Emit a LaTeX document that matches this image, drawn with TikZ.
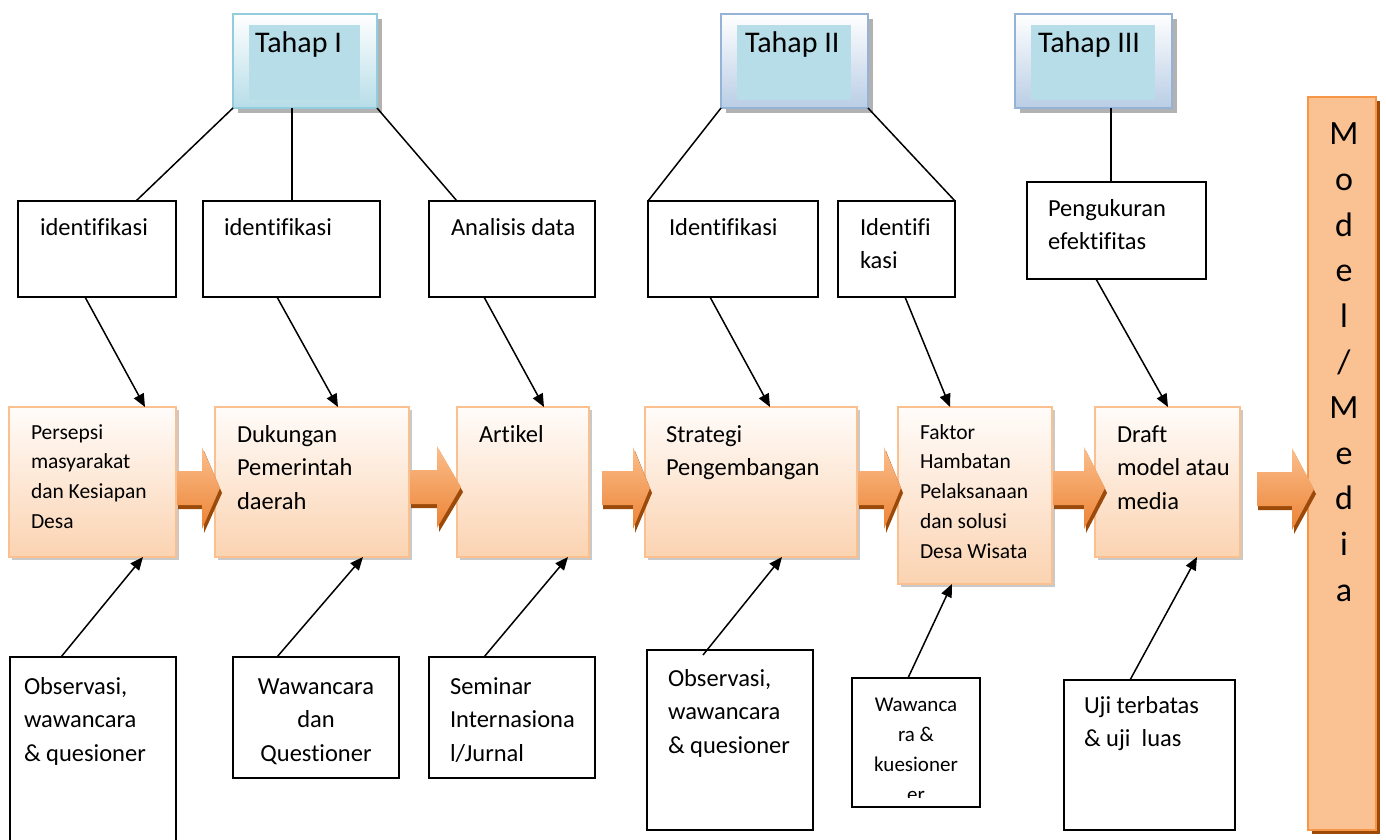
\documentclass[tikz,border=0pt]{standalone}
\usepackage{fontspec}
\setmainfont{Carlito}[Ligatures=NoCommon]
\usetikzlibrary{calc,shadows,arrows.meta}
\definecolor{obord}{HTML}{FAC090}
\definecolor{otop}{HTML}{FFFCFA}
\definecolor{obot}{HTML}{FBD3B1}
\definecolor{aorange}{HTML}{F79646}
\definecolor{alight}{HTML}{FBBE8C}
\definecolor{adark}{HTML}{EC8436}
\definecolor{abrown}{HTML}{9C4A0A}
\definecolor{tblue}{HTML}{B7DDE8}
\definecolor{tbordA}{HTML}{93CDDD}
\definecolor{tbordB}{HTML}{95B3D7}
\definecolor{tbotB}{HTML}{B9CDE5}
\definecolor{barlight}{HTML}{FAC292}
\definecolor{barbord}{HTML}{F79646}
\newcommand\tightsp{\spaceskip=0.226em plus 0.05em minus 0.02em\relax\xspaceskip=0.226em\relax}
\newcommand\blockarrow[4]{%
  \fill[abrown] (#1+1,#4-12) -- (#2+2,#4-12) -- (#2+2,#4-37) -- (#3+2,#4+5) -- (#2+2,#4+45) -- (#2+2,#4+21) -- (#1+1,#4+21) -- cycle;
  \shade[top color=alight, middle color=aorange, bottom color=adark] (#1,#4-17) -- (#2,#4-17) -- (#2,#4-41) -- (#3,#4) -- (#2,#4+41) -- (#2,#4+17) -- (#1,#4+17) -- cycle;}
\tikzset{
  every node/.style={inner sep=0pt, outer sep=0pt},
  sz/.style 2 args={minimum width=#1pt, minimum height=#2pt},
  wbox/.style={draw=black, line width=1.6pt, fill=white, anchor=north west},
  obox/.style={draw=obord, line width=2pt, top color=otop, bottom color=obot, anchor=north west,
     drop shadow={shadow xshift=3pt, shadow yshift=-3pt, fill=black!35, opacity=0.6}},
  tahap/.style={anchor=north west, line width=2pt, top color=white, bottom color=tblue,
     drop shadow={shadow xshift=5pt, shadow yshift=-5pt, fill=black!50, opacity=0.6}},
  bigtxt/.style={font=\fontsize{24.5}{33.5}\selectfont\tightsp, text width=220pt, anchor=base west,
     execute at begin node=\tightsp},
  smalltxt/.style={font=\fontsize{21.5}{29.8}\selectfont\tightsp, text width=220pt, anchor=base west,
     execute at begin node=\tightsp},
  ctxt/.style={anchor=base, execute at begin node={\centering\tightsp}},
  tahaptxt/.style={font=\fontsize{30}{35}\selectfont, anchor=base west},
  tline/.style={line width=1.5pt},
  conn/.style={line width=1.5pt, -{Triangle[length=13pt,width=11pt]}},
}
\begin{document}
\begin{tikzpicture}[x=1pt,y=-1pt]
\useasboundingbox (0,0) rectangle (1386,840);
\clip (0,0) rectangle (1386,840);
\fill[white] (0,0) rectangle (1386,840);

% Tahap boxes
\node[tahap, draw=tbordA, sz={144}{94}] (t1) at (233,14) {};
\node[tahap, draw=tbordB, bottom color=tbotB, sz={147}{94}] (t2) at (721,14) {};
\node[tahap, draw=tbordB, bottom color=tbotB, sz={157}{94}] (t3) at (1015,14) {};
\foreach \t in {t1,t2,t3}{
  \fill[tblue] ($(\t.north west)+(16,11)$) rectangle ($(\t.south east)+(-17,-8)$);
}
\node[tahaptxt] (t1x) at (255,53) {Tahap I};
\node[tahaptxt] (t2x) at (745,53) {Tahap II};
\node[tahaptxt] (t3x) at (1038,53) {Tahap III};

% top white boxes
\node[wbox, sz={158}{96}] (b1) at (18,201) {};
\node[wbox, sz={177}{96}] (b2) at (203,201) {};
\node[wbox, sz={166}{96}] (b3) at (429,201) {};
\node[wbox, sz={170}{96}] (b4) at (648,201) {};
\node[wbox, sz={117}{96}] (b5) at (838,201) {};
\node[wbox, sz={179}{97}] (b6) at (1027,182) {};
\node[bigtxt] (b1x) at (40,235) {identifikasi};
\node[bigtxt] (b2x) at (224,235) {identifikasi};
\node[bigtxt] (b3x) at (451,235) {Analisis data};
\node[bigtxt] (b4x) at (669,235) {Identifikasi};
\node[bigtxt] (b5x) at (860,235) {Identifi\\kasi};
\node[bigtxt] (b6x) at (1048,216) {Pengukuran\\efektifitas};

% orange boxes
\node[obox, sz={167}{150}] (o1) at (9,407) {};
\node[obox, sz={194}{150}] (o2) at (215,407) {};
\node[obox, sz={132}{150}] (o3) at (457,407) {};
\node[obox, sz={212}{150}] (o4) at (645,407) {};
\node[obox, sz={154}{177}] (o5) at (898,407) {};
\node[obox, sz={145}{150}] (o6) at (1095,407) {};
\node[smalltxt] (o1x) at (31,439) {Persepsi\\masyarakat\\dan Kesiapan\\Desa};
\node[bigtxt] (o2x) at (237,442) {Dukungan\\Pemerintah\\daerah};
\node[bigtxt] (o3x) at (479,442) {Artikel};
\node[bigtxt] (o4x) at (666,442) {Strategi\\Pengembangan};
\node[smalltxt] (o5x) at (920,439) {Faktor\\Hambatan\\Pelaksanaan\\dan solusi\\Desa Wisata};
\node[bigtxt] (o6x) at (1117,442) {Draft\\model atau\\media};

% model/media bar
\node[anchor=north west, sz={68}{733}, draw=barbord, line width=1.5pt,
  top color=barlight, middle color=aorange, bottom color=barlight,
  drop shadow={shadow xshift=4pt, shadow yshift=-4pt, fill=abrown, opacity=1}] (bar) at (1308,97) {};
\node[font=\fontsize{34}{45.6}\selectfont, text width=40pt, ctxt] (barx) at (1344,145) {M\\o\\d\\e\\l\\/\\M\\e\\d\\i\\a};

% bottom boxes
\node[wbox, sz={166}{200}] (c1) at (10,657) {};
\node[wbox, sz={166}{121}] (c2) at (233,657) {};
\node[wbox, sz={166}{121}] (c3) at (429,657) {};
\node[wbox, sz={166}{180}] (c4) at (647,650) {};
\node[wbox, sz={128}{129}] (c5) at (852,678) {};
\node[wbox, sz={171}{150}] (c6) at (1064,680) {};
\node[bigtxt] (c1x) at (24,694) {Observasi,\\wawancara\\\& quesioner};
\node[bigtxt, text width=166pt, ctxt] (c2x) at (316,694) {Wawancara\\dan\\Questioner};
\node[bigtxt] (c3x) at (450,694) {Seminar\\Internasiona\\l/Jurnal};
\node[bigtxt] (c4x) at (668,686) {Observasi,\\wawancara\\\& quesioner};
\begin{scope}
  \clip ($(c5.north west)+(2,2)$) rectangle ($(c5.south east)+(-2,-10)$);
  \node[font=\fontsize{21}{30}\selectfont, text width=128pt, ctxt] (c5x) at (916,711) {Wawanca\\ra \&\\kuesioner\\er};
\end{scope}
\node[bigtxt] (c6x) at (1084,713) {Uji terbatas\\\& uji\ \ luas};

% tahap connectors
\draw[tline] (t1.south west) -- ($(b1.north west)+(118,0)$);
\draw[tline] ($(t1.south west)+(59,0)$) -- ($(b2.north west)+(89,0)$);
\draw[tline] (t1.south east) -- ($(b3.north west)+(28,0)$);
\draw[tline] (t2.south west) -- (b4.north west);
\draw[tline] (t2.south east) -- (b5.north east);
\draw[tline] ($(t3.south west)+(96,0)$) -- ($(b6.north west)+(84,0)$);

% top arrows
\draw[conn] ($(b1.south west)+(67,0)$) -- ($(o1.north west)+(136,0)$);
\draw[conn] ($(b2.south west)+(74,0)$) -- ($(o2.north west)+(123,0)$);
\draw[conn] ($(b3.south west)+(55,0)$) -- ($(o3.north west)+(87,0)$);
\draw[conn] ($(b4.south west)+(62,0)$) -- ($(o4.north west)+(125,0)$);
\draw[conn] ($(b5.south west)+(67,0)$) -- ($(o5.north west)+(52,0)$);
\draw[conn] ($(b6.south west)+(69,0)$) -- ($(o6.north west)+(73,0)$);

% bottom arrows
\draw[conn] ($(c1.north west)+(51,0)$) -- ($(o1.south west)+(134,0)$);
\draw[conn] ($(c2.north west)+(44,0)$) -- ($(o2.south west)+(148,0)$);
\draw[conn] ($(c3.north west)+(55,0)$) -- ($(o3.south west)+(111,0)$);
\draw[conn] ($(c4.north west)+(56,5)$) -- ($(o4.south west)+(137,0)$);
\draw[conn] ($(c5.north west)+(56,0)$) -- ($(o5.south west)+(54,0)$);
\draw[conn] ($(c6.north west)+(66,0)$) -- ($(o6.south west)+(102,0)$);

% block arrows
\blockarrow{177}{202}{220}{488}
\blockarrow{410}{437}{461}{487}
\blockarrow{602}{633}{650}{488}
\blockarrow{858}{884}{901}{488}
\blockarrow{1053}{1084}{1105}{488}
\blockarrow{1257}{1292}{1314}{489}
\end{tikzpicture}
\end{document}
